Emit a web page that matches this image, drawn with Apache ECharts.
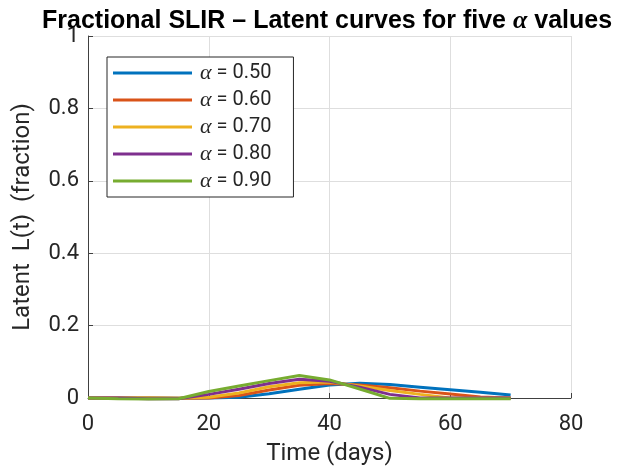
<!DOCTYPE html>
<html>
<head>
<meta charset="utf-8">
<script src="https://cdn.jsdelivr.net/npm/echarts@6/dist/echarts.min.js"></script>
<style>
  html, body { margin: 0; padding: 0; background: #fff; }
  #chart { width: 620px; height: 472px; }
</style>
</head>
<body>
<div id="chart"></div>
<script>
// time grid (days)
var days = [0, 5, 10, 15, 20, 25, 30, 35, 40, 45, 50, 55, 60, 65, 70];
var alphaLabels = ['0.50', '0.60', '0.70', '0.80', '0.90'];

// latent fraction L(t), one list per alpha
var latent050 = [0, 0, 0, -0.001, 0, 0.002, 0.012, 0.024, 0.036, 0.041, 0.037, 0.030, 0.023, 0.016, 0.008];
var latent060 = [0, 0, 0, -0.001, 0, 0.007, 0.022, 0.035, 0.040, 0.036, 0.028, 0.019, 0.011, 0.003, 0];
var latent070 = [0, 0, 0, -0.001, 0.002, 0.014, 0.031, 0.042, 0.044, 0.033, 0.021, 0.010, 0, 0, 0];
var latent080 = [0, 0, -0.002, -0.002, 0.010, 0.024, 0.040, 0.052, 0.046, 0.030, 0.010, 0, 0, 0, 0];
var latent090 = [0, -0.002, -0.003, -0.002, 0.018, 0.033, 0.048, 0.062, 0.050, 0.025, -0.001, -0.002, -0.002, -0.002, -0.002];

var latentAll = [latent050, latent060, latent070, latent080, latent090];
var colors = ['#0072BD', '#D95319', '#EDB120', '#7E2F8E', '#77AC30'];

var txt = '#262626';
var font = 'Roboto';
var greekFont = 'Liberation Serif';

var series = latentAll.map(function (vals, i) {
  return {
    name: 'α = ' + alphaLabels[i],
    type: 'line',
    symbol: 'none',
    clip: false,
    lineStyle: { width: 3, color: colors[i] },
    itemStyle: { color: colors[i] },
    data: days.map(function (d, k) { return [d, vals[k]]; })
  };
});

var chart = echarts.init(document.getElementById('chart'));
chart.setOption({
  animation: false,
  backgroundColor: '#fff',
  title: {
    text: '{b|Fractional SLIR – Latent curves for five }{a|α}{b| values}',
    left: 37,
    top: 3,
    textStyle: {
      rich: {
        b: { fontFamily: 'Liberation Sans', fontWeight: 'bold', fontSize: 25, color: '#000' },
        a: { fontFamily: greekFont, fontStyle: 'italic', fontSize: 26, color: '#000' }
      }
    }
  },
  grid: { left: 88, right: 49, top: 36, bottom: 74 },
  legend: {
    orient: 'vertical',
    left: 107,
    top: 57,
    backgroundColor: '#fff',
    borderColor: txt,
    borderWidth: 1,
    borderRadius: 0,
    padding: [5, 22, 5, 6],
    itemGap: 5,
    itemWidth: 79,
    itemHeight: 3,
    icon: 'rect',
    data: series.map(function (s) { return s.name; }),
    formatter: function (name) {
      return '{a|α}{v| = ' + name.split('= ')[1] + '}';
    },
    textStyle: {
      padding: [0, 0, 0, 3],
      rich: {
        a: { fontFamily: greekFont, fontStyle: 'italic', fontSize: 22, color: txt, lineHeight: 19 },
        v: { fontFamily: font, fontSize: 20, color: txt, lineHeight: 19 }
      }
    }
  },
  xAxis: {
    type: 'value',
    min: 0, max: 80, interval: 20,
    name: 'Time (days)',
    nameLocation: 'middle',
    nameGap: 44,
    nameTextStyle: { fontFamily: font, fontSize: 24, color: txt },
    axisLine: { lineStyle: { color: '#404040', width: 1 } },
    axisTick: { inside: true, length: 5, lineStyle: { color: '#404040' } },
    axisLabel: { margin: 15, fontFamily: font, fontSize: 22, color: txt },
    splitLine: { lineStyle: { color: '#dedede', width: 1 } }
  },
  yAxis: {
    type: 'value',
    min: 0, max: 1, interval: 0.2,
    name: 'Latent  L(t)  (fraction)',
    nameLocation: 'middle',
    nameGap: 53,
    nameTextStyle: { fontFamily: font, fontSize: 24, color: txt },
    axisLine: { show: true, lineStyle: { color: '#404040', width: 1 } },
    axisTick: { show: true, inside: true, length: 5, lineStyle: { color: '#404040' } },
    axisLabel: { margin: 9, fontFamily: font, fontSize: 22, color: txt },
    splitLine: { lineStyle: { color: '#dedede', width: 1 } }
  },
  series: series
});
</script>
</body>
</html>
